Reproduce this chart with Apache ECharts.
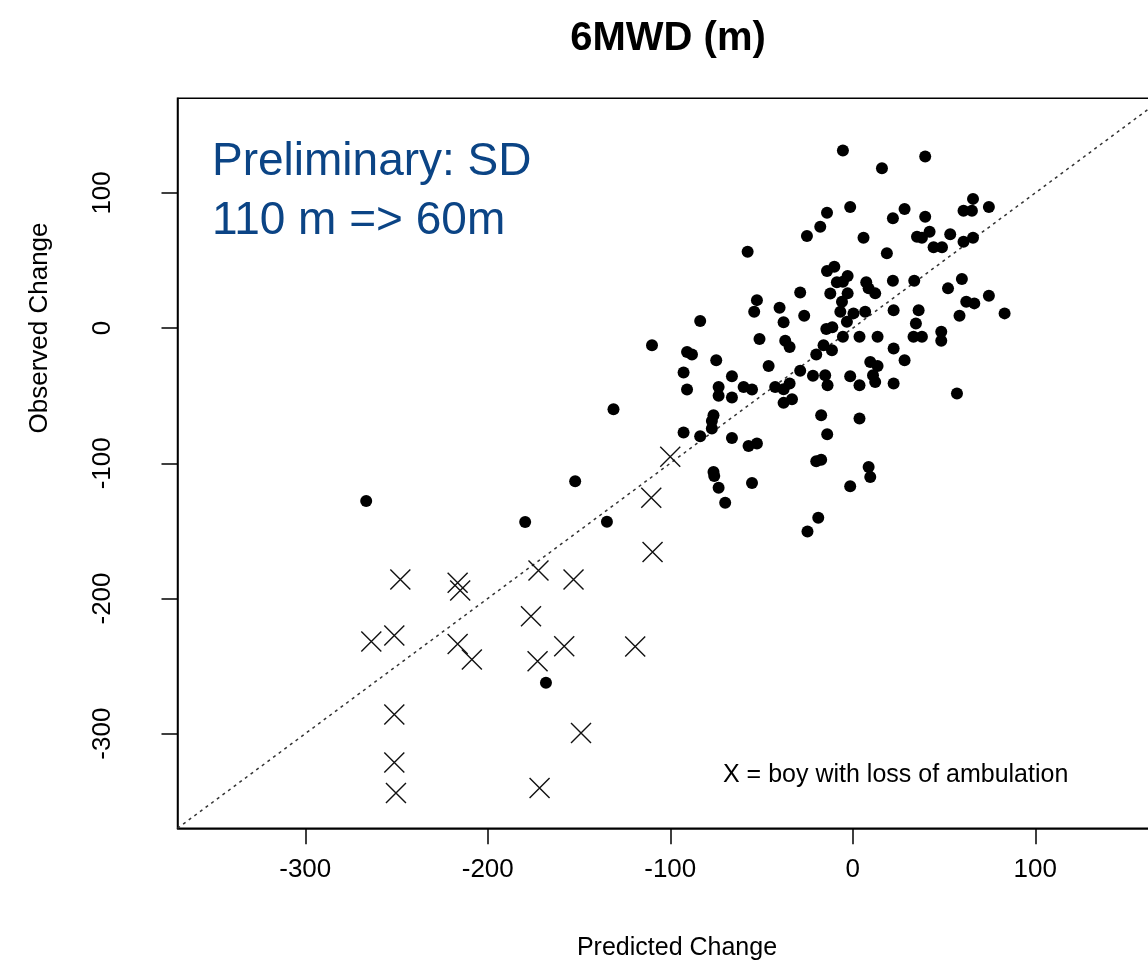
<!DOCTYPE html>
<html>
<head>
<meta charset="utf-8">
<script src="https://cdn.jsdelivr.net/npm/echarts@6/dist/echarts.min.js"></script>
<style>html,body{margin:0;padding:0;background:#fff}#chart{width:1148px;height:975px}</style>
</head>
<body>
<div id="chart"></div>
<script>
// Observed vs predicted change, 6MWD (m)
const dotX = [-14.1,-17.8,-25.1,-57.6,-14.1,-28.8,-12.3,-52.5,-54.0,-40.1,-26.6,-37.9,-83.6,-14.5,-11.2,
  -5.4,16.0,39.7,65.9,60.7,65.3,74.6,-1.4,28.4,22.0,39.7,5.9,35.2,37.9,42.1,53.4,44.3,48.9,60.7,65.9,18.7,
  -10.1,-8.7,-5.4,-2.8,7.4,8.7,12.3,22.0,33.7,-2.8,-5.9,52.2,59.8,74.6,62.2,66.6,83.2,58.5,-6.8,0.4,6.8,-3.2,
  22.4,36.1,34.6,-16.0,-11.4,-5.4,3.7,13.6,33.3,37.9,48.5,48.5,22.4,28.4,9.6,13.6,-15.1,-13.8,-1.4,3.7,11.1,
  12.3,22.4,57.1,-17.3,3.7,-14.0,-17.3,8.7,9.6,-1.4,-18.9,-110.0,-90.8,-88.1,-51.1,-37.0,-34.6,-74.8,-20.0,
  -46.1,-28.8,-92.7,-66.2,-21.8,-90.8,-73.5,-73.5,-59.8,-55.2,-66.2,-42.5,-37.9,-34.6,-37.9,-33.3,-76.3,-77.2,
  -77.2,-92.7,-83.6,-66.2,-57.1,-52.5,-20.0,-76.3,-75.9,-73.5,-55.2,-69.9,-24.8,-131.1,-152.1,-134.7,-179.5,
  -266.6,-168.1];
const dotY = [85.4,75.0,68.1,56.5,42.2,26.4,25.6,20.7,12.1,15.0,9.1,4.4,5.2,-0.7,0.7,
  131.3,118.3,126.9,95.6,86.9,86.9,89.6,89.6,88.1,81.3,82.4,66.9,67.6,66.9,71.3,69.4,59.8,59.8,63.9,66.9,55.3,
  45.4,33.9,34.3,38.5,33.9,29.4,25.7,35.0,35.0,25.7,19.5,29.4,36.3,23.9,19.5,18.3,10.9,9.1,12.1,10.9,12.1,4.7,
  13.3,13.3,3.5,-12.6,-16.3,-6.4,-6.4,-6.4,-6.4,-6.4,-2.7,-9.4,-15.0,-23.7,-25.0,-28.1,-34.8,-42.2,-35.6,-42.2,-34.8,
  -39.8,-41.0,-48.4,-64.4,-66.9,-78.5,-97.3,-102.7,-110.1,-117.0,-140.2,-12.6,-17.6,-19.5,-8.1,-9.4,-13.9,-23.7,-19.5,
  -28.1,-31.6,-32.8,-35.6,-35.3,-45.4,-43.5,-50.1,-43.5,-45.4,-51.3,-43.5,-45.2,-41.0,-55.3,-52.6,-64.4,-68.7,
  -74.3,-77.3,-80.0,-81.3,-87.2,-85.4,-98.5,-106.4,-109.4,-118.0,-114.6,-129.1,-150.4,-60.0,-113.3,-143.3,-143.5,
  -127.9,-262.4];
// boys with loss of ambulation (X markers)
const crossX = [-247.9,-216.5,-215.1,-172.2,-153.0,-176.3,-263.8,-251.2,-216.5,-208.7,-172.7,-158.1,-119.2,
  -251.2,-148.9,-251.2,-250.3,-171.6,-110.4,-109.7,-100.0];
const crossY = [-185.9,-188.4,-194.1,-179.3,-185.9,-213.1,-231.9,-227.4,-233.6,-245.2,-246.4,-235.3,-235.6,
  -285.9,-299.5,-321.3,-343.9,-340.2,-125.4,-165.7,-95.2];
const tickValues = [-300, -200, -100, 0, 100];
const axisRange = [-370, 170];

const dots = dotX.map((x, i) => [x, dotY[i]]);
const crosses = crossX.map((x, i) => [x, crossY[i]]);
const identity = axisRange.map(v => [v, v]);

const chart = echarts.init(document.getElementById('chart'), null, {renderer: 'canvas'});
const FONT = 'Liberation Sans, Arial, sans-serif';
const axisCommon = {
  type: 'value', min: axisRange[0], max: axisRange[1],
  splitLine: {show: false},
  axisLine: {show: true, onZero: false, lineStyle: {color: '#000', width: 1.5}},
  axisTick: {show: true, length: 16, customValues: tickValues, lineStyle: {color: '#000', width: 1.5}},
};
chart.setOption({
  animation: false,
  backgroundColor: '#fff',
  grid: {left: 177.5, top: 98.3, width: 985.5, height: 730, show: true, borderColor: '#000', borderWidth: 1.5,
         backgroundColor: 'transparent', containLabel: false, outerBoundsMode: 'none'},
  xAxis: Object.assign({}, axisCommon, {
    axisLabel: {customValues: tickValues, margin: 29, fontSize: 26, color: '#000', fontFamily: FONT}
  }),
  yAxis: Object.assign({}, axisCommon, {
    axisLabel: {customValues: tickValues, rotate: 90, margin: 62, fontSize: 26, color: '#000', fontFamily: FONT}
  }),
  series: [
    {type: 'line', data: identity, symbol: 'none', silent: true, z: 1,
     lineStyle: {color: '#333', width: 1.5, type: [3, 4]}},
    {type: 'scatter', data: dots, symbol: 'circle', symbolSize: 12, z: 3,
     itemStyle: {color: '#000', opacity: 1}},
    {type: 'scatter', data: crosses, symbol: 'path://M0,0L20,20M20,0L0,20', symbolSize: 20, z: 3,
     itemStyle: {color: 'none', borderColor: '#111', borderWidth: 1.4, opacity: 1}}
  ],
  graphic: [
    {type: 'text', x: 668, y: 39, style: {text: '6MWD (m)', font: 'bold 40px ' + FONT,
      fill: '#000', align: 'center', verticalAlign: 'middle'}},
    {type: 'text', x: 677, y: 948, style: {text: 'Predicted Change', font: '25px ' + FONT,
      fill: '#000', align: 'center', verticalAlign: 'middle'}},
    {type: 'text', x: 40, y: 328, rotation: Math.PI / 2, style: {text: 'Observed Change', font: '26px ' + FONT,
      fill: '#000', align: 'center', verticalAlign: 'middle'}},
    {type: 'text', x: 212, y: 162, style: {text: 'Preliminary: SD', font: '46px ' + FONT,
      fill: '#0b4485', align: 'left', verticalAlign: 'middle'}},
    {type: 'text', x: 212, y: 221, style: {text: '110 m => 60m', font: '46px ' + FONT,
      fill: '#0b4485', align: 'left', verticalAlign: 'middle'}},
    {type: 'text', x: 723, y: 775, style: {text: 'X = boy with loss of ambulation', font: '25px ' + FONT,
      fill: '#000', align: 'left', verticalAlign: 'middle'}}
  ]
});
</script>
</body>
</html>
